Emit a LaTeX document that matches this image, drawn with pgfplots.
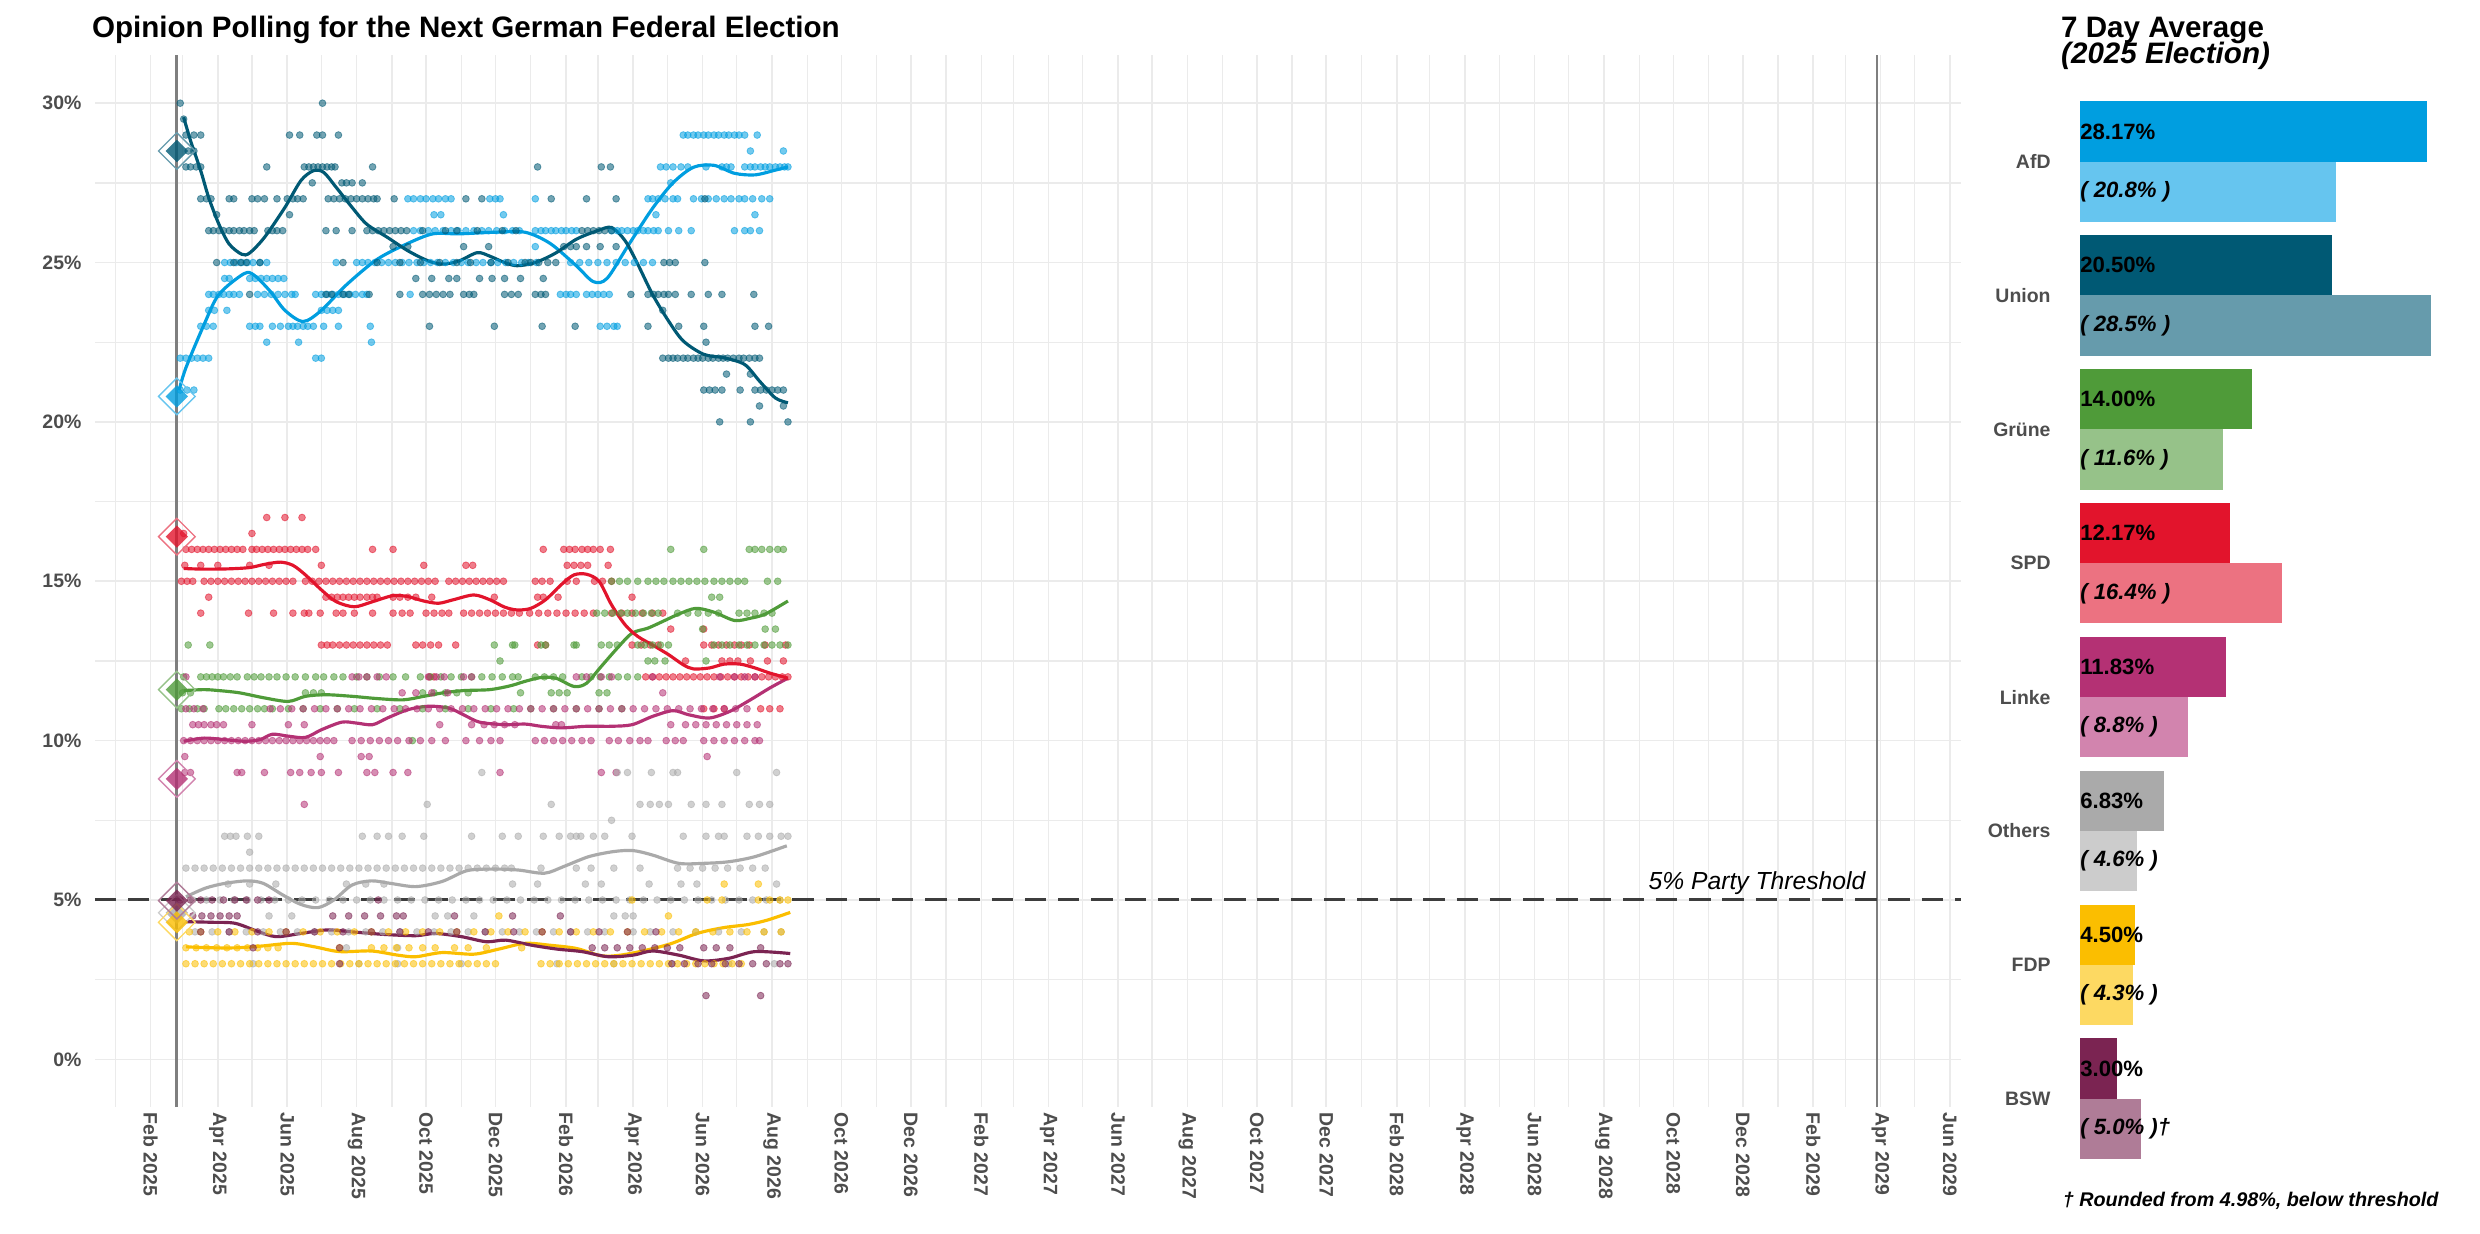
\documentclass[border=0pt]{standalone}
\usepackage{pgfplots}
\pgfplotsset{compat=1.18}
\usepackage{fontspec}
\setmainfont{Liberation Sans}
\definecolor{afd}{HTML}{009EE0}
\definecolor{afdl}{HTML}{66C5EF}
\definecolor{union}{HTML}{005974}
\definecolor{unionl}{HTML}{669BAC}
\definecolor{gruene}{HTML}{4F9B39}
\definecolor{gruenel}{HTML}{96C289}
\definecolor{spd}{HTML}{E2142C}
\definecolor{spdl}{HTML}{EC7281}
\definecolor{linke}{HTML}{B43174}
\definecolor{linkel}{HTML}{D284AE}
\definecolor{others}{HTML}{AAAAAA}
\definecolor{othersl}{HTML}{CCCCCC}
\definecolor{fdp}{HTML}{FBBE00}
\definecolor{fdpl}{HTML}{FDD962}
\definecolor{bsw}{HTML}{7B2452}
\definecolor{bswl}{HTML}{AF7C97}
\definecolor{gridc}{HTML}{EBEBEB}
\definecolor{tickc}{HTML}{4D4D4D}
\definecolor{vline}{HTML}{7F7F7F}
\pgfplotsset{
 dots/.style={only marks, mark=*, mark size=2.15pt, color=#1, mark options={draw=#1, fill=#1, fill opacity=0.55, draw opacity=0.55, line width=0.5pt}},
 trend/.style={no marks, smooth, tension=0.5, line width=2.0pt, color=#1},
 elec/.style={only marks, mark=square*, mark size=5.0pt, color=#1, mark options={rotate=45, draw=#1, draw opacity=0, fill=#1, fill opacity=0.8}},
 elecring/.style={only marks, mark=square, mark size=8.2pt, color=#1, mark options={rotate=45, draw=#1, line width=0.85pt}},
}
\begin{document}
\begin{tikzpicture}
\path[use as bounding box] (0,0) rectangle (1568pt,-780pt);
\node[anchor=base west,inner sep=0,font=\bfseries\fontsize{18.7}{20}\selectfont] at (58pt,-23.5pt) {Opinion Polling for the Next German Federal Election};
\begin{axis}[
 at={(60pt,-35pt)}, anchor=north west, scale only axis, width=1180pt, height=665pt,
 xmin=-18, xmax=1622, ymin=-1.5, ymax=31.5,
 axis line style={draw=none},
 major tick length=0pt, minor tick length=0pt,
 xtick={31,90,151,212,273,334,396,455,516,577,638,699,761,820,881,942,1003,1064,1126,1186,1247,1308,1369,1430,1492,1551,1612},
 xticklabels={Feb 2025,Apr 2025,Jun 2025,Aug 2025,Oct 2025,Dec 2025,Feb 2026,Apr 2026,Jun 2026,Aug 2026,Oct 2026,Dec 2026,Feb 2027,Apr 2027,Jun 2027,Aug 2027,Oct 2027,Dec 2027,Feb 2028,Apr 2028,Jun 2028,Aug 2028,Oct 2028,Dec 2028,Feb 2029,Apr 2029,Jun 2029},
 minor xtick={0,59,120,181,243,304,365,424,485,546,608,669,730,789,850,911,973,1034,1095,1155,1216,1277,1339,1400,1461,1520,1581},
 ytick={0,5,10,15,20,25,30}, yticklabels={0\%,5\%,10\%,15\%,20\%,25\%,30\%},
 minor ytick={2.5,7.5,12.5,17.5,22.5,27.5},
 grid=both,
 major grid style={draw=gridc, line width=1.05pt},
 minor grid style={draw=gridc, line width=0.85pt},
 tick label style={font=\bfseries\fontsize{12.3}{13}\selectfont, text=tickc},
 xticklabel style={rotate=-90, anchor=west},
 yticklabel style={xshift=-5pt},
]
% election lines
\addplot[no marks, draw=vline, line width=1.8pt] coordinates {(54,-1.5) (54,31.5)};
\addplot[no marks, draw=vline, line width=1.8pt] coordinates {(1548,-1.5) (1548,31.5)};
\node[anchor=base east, inner sep=0, font=\itshape\fontsize{15.6}{17}\selectfont] at (axis cs:1538,5.34) {5\% Party Threshold};

% ---- AfD polls
\addplot[dots=afd] coordinates {
(499,29)(503,29)(508,29)(512,29)(517,29)(521,29)(526,29)(530,29)(535,29)(539,29)(544,29)(548,29)(553,29)(564,29)
(558,28.5)(587,28.5)
(479,28)(484,28)(490,28)(497,28)(503,28)(519,28)(533,28)(537,28)(541,28)(553,28)(558,28)(562,28)(567,28)(571,28)(575,28)(580,28)(584,28)(588,28)(591,28)
(488,27.5)
(257,27)(262,27)(268,27)(273,27)(279,27)(284,27)(290,27)(295,27)(329,27)(334,27)(338,27)(369,27)(468,27)(472,27)(477,27)(483,27)(490,27)(494,27)(508,27)(515,27)(521,27)(528,27)(535,27)(541,27)(548,27)(553,27)(560,27)(568,27)(575,27)
(280,26.5)(286,26.5)(341,26.5)(475,26.5)(562,26.5)
(262,26)(268,26)(275,26)(281,26)(288,26)(295,26)(301,26)(308,26)(315,26)(322,26)(328,26)(335,26)(342,26)(349,26)(355,26)(369,26)(374,26)(378,26)(383,26)(387,26)(392,26)(396,26)(401,26)(405,26)(436,26)(441,26)(445,26)(450,26)(455,26)(459,26)(464,26)(468,26)(473,26)(477,26)(486,26)(495,26)(506,26)(544,26)(553,26)(558,26)(566,26)
(369,25.5)
(96,25)(101,25)(106,25)(111,25)(116,25)(121,25)(127,25)(133,25)(194,25)(212,25)(217,25)(222,25)(228,25)(234,25)(240,25)(246,25)(252,25)(258,25)(265,25)(271,25)(277,25)(283,25)(290,25)(297,25)(304,25)(310,25)(317,25)(323,25)(330,25)(336,25)(343,25)(350,25)(357,25)(363,25)(370,25)(400,25)(408,25)(416,25)(424,25)(432,25)(440,25)(448,25)(456,25)(464,25)(472,25)
(96,24.5)(100,24.5)(118,24.5)(123,24.5)(128,24.5)(133,24.5)(138,24.5)(143,24.5)(148,24.5)
(82,24)(86,24)(91,24)(95,24)(100,24)(104,24)(109,24)(125,24)(131,24)(137,24)(143,24)(149,24)(155,24)(158,24)(176,24)(181,24)(186,24)(191,24)(196,24)(201,24)(206,24)(211,24)(217,24)(221,24)(259,24)(391,24)(396,24)(400,24)(405,24)(414,24)(419,24)(424,24)(429,24)(434,24)
(82,23.5)(87,23.5)(98,23.5)(181,23.5)(186,23.5)(191,23.5)(196,23.5)
(75,23)(80,23)(86,23)(118,23)(123,23)(127,23)(138,23)(145,23)(152,23)(156,23)(160,23)(165,23)(169,23)(174,23)(183,23)(196,23)(224,23)(426,23)(432,23)(438,23)(441,23)
(133,22.5)(161,22.5)(225,22.5)
(57,22)(62,22)(67,22)(72,22)(77,22)(82,22)(176,22)(181,22)
(57,21)(63,21)(69,21)
};
% ---- Union polls
\addplot[dots=union] coordinates {
(57,30)(182,30)(60,29.5)
(62,29)(69,29)(75,29)(153,29)(162,29)(177,29)(182,29)(196,29)
(64,28.5)(69,28.5)
(62,28)(66,28)(71,28)(75,28)(133,28)(166,28)(170,28)(174,28)(178,28)(182,28)(186,28)(190,28)(193,28)(226,28)(371,28)(427,28)(435,28)
(173,27.5)(199,27.5)(203,27.5)(208,27.5)(217,27.5)
(75,27)(80,27)(84,27)(100,27)(104,27)(120,27)(125,27)(131,27)(142,27)(151,27)(156,27)(160,27)(165,27)(187,27)(192,27)(197,27)(202,27)(207,27)(212,27)(217,27)(222,27)(227,27)(230,27)(245,27)(308,27)(322,27)(383,27)(414,27)(440,27)(518,27)
(89,26.5)(153,26.5)
(82,26)(86,26)(91,26)(95,26)(100,26)(104,26)(109,26)(113,26)(118,26)(122,26)(134,26)(138,26)(142,26)(147,26)(185,26)(194,26)(208,26)(221,26)(226,26)(231,26)(236,26)(241,26)(246,26)(251,26)(256,26)(270,26)(290,26)(300,26)(318,26)(340,26)(352,26)(410,26)(415,26)(420,26)(425,26)(430,26)(436,26)
(244,25.5)(257,25.5)(306,25.5)(328,25.5)(394,25.5)(400,25.5)(405,25.5)(414,25.5)(426,25.5)(440,25.5)
(89,25)(104,25)(110,25)(115,25)(127,25)(200,25)(230,25)(250,25)(268,25)(285,25)(300,25)(312,25)(330,25)(345,25)(360,25)(365,25)(372,25)(380,25)(387,25)(482,25)(487,25)(492,25)(518,25)
(264,24.5)(278,24.5)(293,24.5)(300,24.5)(320,24.5)(331,24.5)(342,24.5)(356,24.5)(376,24.5)
(118,24)(185,24)(190,24)(200,24)(205,24)(223,24)(250,24)(270,24)(276,24)(282,24)(288,24)(294,24)(306,24)(311,24)(315,24)(342,24)(348,24)(354,24)(369,24)(374,24)(378,24)(453,24)(468,24)(473,24)(477,24)(482,24)(486,24)(492,24)(506,24)(521,24)(533,24)(561,24)
(481,23.5)
(276,23)(333,23)(375,23)(404,23)(468,23)(495,23)(517,23)(562,23)(574,23)
(519,22.5)
(481,22)(486,22)(490,22)(494,22)(499,22)(503,22)(508,22)(512,22)(516,22)(521,22)(525,22)(530,22)(534,22)(538,22)(543,22)(548,22)(552,22)(557,22)(562,22)(566,22)
(537,21.5)(558,21.5)
(517,21)(522,21)(527,21)(533,21)(549,21)(562,21)(567,21)(572,21)(577,21)(582,21)(587,21)
(566,20.5)(587,20.5)
(531,20)(558,20)(591,20)
};
% ---- SPD polls
\addplot[dots=spd] coordinates {
(133,17)(149,17)(164,17)(60,16.5)(120,16.5)
(62,16)(67,16)(72,16)(77,16)(82,16)(87,16)(92,16)(97,16)(102,16)(107,16)(112,16)(120,16)(124,16)(129,16)(134,16)(139,16)(144,16)(149,16)(154,16)(159,16)(164,16)(169,16)(176,16)(226,16)(244,16)(376,16)(394,16)(399,16)(404,16)(410,16)(415,16)(420,16)(426,16)(435,16)
(61,15.5)(75,15.5)(90,15.5)(118,15.5)(135,15.5)(181,15.5)(271,15.5)(308,15.5)(314,15.5)(397,15.5)(403,15.5)(409,15.5)(415,15.5)(433,15.5)
(58,15)(63,15)(68,15)(78,15)(84,15)(90,15)(96,15)(102,15)(108,15)(114,15)(120,15)(126,15)(132,15)(138,15)(144,15)(150,15)(156,15)(167,15)(173,15)(179,15)(185,15)(191,15)(197,15)(203,15)(209,15)(215,15)(221,15)(227,15)(233,15)(239,15)(245,15)(251,15)(257,15)(263,15)(269,15)(275,15)(281,15)(293,15)(299,15)(305,15)(311,15)(317,15)(323,15)(329,15)(335,15)(341,15)(369,15)(375,15)(382,15)(397,15)(405,15)(421,15)(428,15)(436,15)
(82,14.5)(185,14.5)(190,14.5)(195,14.5)(200,14.5)(205,14.5)(210,14.5)(215,14.5)(221,14.5)(226,14.5)(230,14.5)(244,14.5)(250,14.5)(257,14.5)(264,14.5)(278,14.5)(333,14.5)(371,14.5)(376,14.5)(389,14.5)(454,14.5)
(75,14)(117,14)(139,14)(156,14)(166,14)(170,14)(180,14)(194,14)(200,14)(210,14)(226,14)(244,14)(252,14)(259,14)(273,14)(280,14)(287,14)(293,14)(306,14)(313,14)(320,14)(327,14)(334,14)(341,14)(348,14)(355,14)(364,14)(372,14)(380,14)(388,14)(396,14)(404,14)(412,14)(420,14)(436,14)(445,14)(454,14)(463,14)(472,14)(481,14)
(488,13.5)(517,13.5)
(181,13)(186,13)(191,13)(197,13)(203,13)(209,13)(215,13)(221,13)(227,13)(233,13)(239,13)(264,13)(270,13)(277,13)(284,13)(299,13)(371,13)(378,13)(454,13)(462,13)(470,13)(477,13)(517,13)(524,13)(530,13)(537,13)(544,13)(550,13)(557,13)(571,13)(589,13)
(501,12.5)(533,12.5)(540,12.5)(547,12.5)(558,12.5)(573,12.5)(587,12.5)
(276,12)(280,12)(466,12)(472,12)(478,12)(484,12)(490,12)(496,12)(502,12)(508,12)(514,12)(520,12)(526,12)(532,12)(538,12)(544,12)(550,12)(556,12)(562,12)(568,12)(574,12)(580,12)(586,12)(591,12)
(517,11)(526,11)(535,11)(567,11)(575,11)(584,11)
};
% ---- Gruene polls
\addplot[dots=gruene] coordinates {
(488,16)(517,16)(557,16)(562,16)(568,16)(575,16)(582,16)(587,16)
(436,15)(443,15)(450,15)(459,15)(468,15)(475,15)(482,15)(490,15)(497,15)(504,15)(511,15)(518,15)(526,15)(533,15)(540,15)(547,15)(553,15)(573,15)(582,15)
(524,14.5)(531,14.5)
(423,14)(430,14)(437,14)(444,14)(450,14)(457,14)(464,14)(471,14)(477,14)(494,14)(503,14)(512,14)(521,14)(530,14)(548,14)(555,14)(562,14)(570,14)(577,14)
(516,13.5)(571,13.5)(580,13.5)
(64,13)(83,13)(333,13)(349,13)(351,13)(374,13)(378,13)(403,13)(405,13)(427,13)(434,13)(441,13)(459,13)(465,13)(472,13)(479,13)(486,13)(526,13)(533,13)(540,13)(548,13)(555,13)(562,13)(570,13)(577,13)(584,13)(591,13)
(338,12.5)(468,12.5)(474,12.5)(483,12.5)(519,12.5)
(60,12)(75,12)(80,12)(85,12)(90,12)(95,12)(101,12)(107,12)(116,12)(122,12)(128,12)(135,12)(142,12)(150,12)(158,12)(167,12)(176,12)(183,12)(192,12)(200,12)(212,12)(221,12)(232,12)(244,12)(255,12)(268,12)(277,12)(286,12)(295,12)(304,12)(313,12)(322,12)(331,12)(340,12)(349,12)(354,12)(369,12)(377,12)(385,12)(393,12)(410,12)(418,12)(426,12)(434,12)(442,12)(450,12)(459,12)
(59,11.5)(66,11.5)(167,11.5)(174,11.5)(181,11.5)(270,11.5)(280,11.5)(290,11.5)(300,11.5)(310,11.5)(356,11.5)(383,11.5)(390,11.5)(397,11.5)(425,11.5)(432,11.5)
(58,11)(65,11)(72,11)(78,11)(91,11)(97,11)(104,11)(111,11)(118,11)(125,11)(131,11)(138,11)(152,11)(165,11)(180,11)(195,11)(210,11)(230,11)(250,11)(270,11)(290,11)(310,11)(330,11)(350,11)(365,11)(385,11)(405,11)(425,11)(445,11)
(261,10)
};
% ---- Linke polls
\addplot[dots=linke] coordinates {
(62,12)(208,12)(214,12)(221,12)(230,12)(238,12)(275,12)(282,12)(289,12)(306,12)(313,12)(405,12)(414,12)(427,12)(436,12)(472,12)(531,12)(544,12)(553,12)(562,12)
(252,11.5)(264,11.5)(278,11.5)(292,11.5)(481,11.5)
(62,11)(69,11)(77,11)(136,11)(145,11)(155,11)(165,11)(175,11)(185,11)(195,11)(205,11)(215,11)(225,11)(235,11)(245,11)(255,11)(265,11)(275,11)(285,11)(295,11)(305,11)(315,11)(325,11)(335,11)(345,11)(355,11)(365,11)(375,11)(385,11)(395,11)(405,11)(415,11)(425,11)(435,11)(445,11)(455,11)(465,11)(475,11)(485,11)(495,11)(505,11)(515,11)(525,11)(535,11)(545,11)(555,11)
(68,10.5)(73,10.5)(78,10.5)(84,10.5)(89,10.5)(95,10.5)(120,10.5)(152,10.5)(166,10.5)(285,10.5)(313,10.5)(324,10.5)(333,10.5)(342,10.5)(351,10.5)(387,10.5)(392,10.5)(488,10.5)(501,10.5)(510,10.5)(519,10.5)(528,10.5)(537,10.5)(546,10.5)(555,10.5)(564,10.5)
(60,10)(66,10)(72,10)(78,10)(84,10)(90,10)(96,10)(102,10)(108,10)(114,10)(120,10)(126,10)(132,10)(138,10)(144,10)(150,10)(156,10)(162,10)(168,10)(174,10)(180,10)(186,10)(192,10)(208,10)(216,10)(224,10)(232,10)(240,10)(248,10)(258,10)(268,10)(278,10)(290,10)(308,10)(320,10)(330,10)(338,10)(369,10)(377,10)(385,10)(393,10)(401,10)(410,10)(418,10)(434,10)(442,10)(452,10)(461,10)(468,10)(484,10)(492,10)(499,10)(517,10)(526,10)(535,10)(544,10)(553,10)(562,10)(566,10)
(61,9.5)(180,9.5)(216,9.5)(223,9.5)(520,9.5)
(61,9)(66,9)(107,9)(111,9)(131,9)(154,9)(162,9)(172,9)(181,9)(196,9)(221,9)(228,9)(244,9)(257,9)(338,9)(427,9)(440,9)
(166,8)
};
% ---- Others polls
\addplot[dots=others] coordinates {
(322,9)(441,9)(450,9)(471,9)(490,9)(494,9)(546,9)(581,9)
(274,8)(383,8)(461,8)(470,8)(478,8)(486,8)(506,8)(519,8)(533,8)(557,8)(566,8)(575,8)
(436,7.5)
(96,7)(101,7)(106,7)(116,7)(126,7)(217,7)(230,7)(240,7)(252,7)(271,7)(313,7)(340,7)(354,7)(376,7)(390,7)(400,7)(405,7)(409,7)(420,7)(430,7)(454,7)(499,7)(519,7)(530,7)(535,7)(555,7)(565,7)(575,7)(585,7)(591,7)
(118,6.5)
(62,6)(70,6)(78,6)(86,6)(94,6)(102,6)(110,6)(118,6)(126,6)(134,6)(142,6)(150,6)(158,6)(166,6)(174,6)(182,6)(190,6)(198,6)(206,6)(214,6)(222,6)(230,6)(238,6)(246,6)(254,6)(262,6)(270,6)(278,6)(286,6)(294,6)(302,6)(310,6)(318,6)(326,6)(334,6)(342,6)(348,6)(374,6)(405,6)(418,6)(438,6)(461,6)(494,6)(505,6)(516,6)(527,6)(538,6)(549,6)(560,6)(571,6)
(99,5.5)(118,5.5)(141,5.5)(203,5.5)(220,5.5)(236,5.5)(349,5.5)(371,5.5)(413,5.5)(427,5.5)(469,5.5)(497,5.5)(511,5.5)(581,5.5)
(68,5)(80,5)(92,5)(104,5)(116,5)(128,5)(140,5)(152,5)(164,5)(176,5)(188,5)(200,5)(212,5)(224,5)(236,5)(248,5)(260,5)(272,5)(284,5)(296,5)(308,5)(320,5)(332,5)(344,5)(356,5)(368,5)(380,5)(392,5)(404,5)(416,5)(428,5)(440,5)(452,5)(464,5)(476,5)(488,5)(500,5)(512,5)(524,5)(536,5)(548,5)(560,5)(572,5)(584,5)
(135,4.5)(155,4.5)(281,4.5)(292,4.5)(315,4.5)(438,4.5)(448,4.5)(455,4.5)
(70,4)(85,4)(100,4)(115,4)(130,4)(145,4)(160,4)(175,4)(190,4)(205,4)(220,4)(235,4)(250,4)(265,4)(280,4)(295,4)(310,4)(325,4)(340,4)(355,4)(370,4)(385,4)(400,4)(415,4)(430,4)(455,4)(470,4)(490,4)(510,4)(530,4)(550,4)(570,4)(585,4)
(203,3.5)(248,3.5)
(121,3)(214,3)(248,3)(304,3)(388,3)(438,3)(489,3)(539,3)(579,3)
};
% ---- FDP polls
\addplot[dots=fdp] coordinates {
(535,5.5)(565,5.5)
(454,5)(520,5)(533,5)(565,5)(575,5)(584,5)(591,5)
(337,4.5)(486,4.5)
(65,4)(75,4)(90,4)(105,4)(120,4)(135,4)(150,4)(165,4)(180,4)(195,4)(210,4)(225,4)(240,4)(255,4)(270,4)(285,4)(300,4)(315,4)(330,4)(345,4)(360,4)(375,4)(390,4)(405,4)(420,4)(435,4)(450,4)(465,4)(480,4)(495,4)(510,4)(525,4)(540,4)(555,4)(570,4)(585,4)
(62,3.5)(71,3.5)(80,3.5)(89,3.5)(98,3.5)(107,3.5)(116,3.5)(125,3.5)(134,3.5)(143,3.5)(197,3.5)(225,3.5)(236,3.5)(247,3.5)(258,3.5)(270,3.5)(281,3.5)(298,3.5)(310,3.5)(326,3.5)(357,3.5)
(62,3)(70,3)(78,3)(86,3)(94,3)(102,3)(110,3)(118,3)(126,3)(134,3)(142,3)(150,3)(158,3)(166,3)(174,3)(182,3)(190,3)(198,3)(206,3)(214,3)(222,3)(230,3)(238,3)(246,3)(254,3)(262,3)(270,3)(278,3)(286,3)(294,3)(302,3)(310,3)(318,3)(326,3)(334,3)(374,3)(382,3)(390,3)(398,3)(406,3)(414,3)(422,3)(430,3)(438,3)(446,3)(454,3)(462,3)(470,3)(478,3)(486,3)(494,3)(502,3)(510,3)(518,3)(526,3)(534,3)(542,3)(550,3)
};
% ---- BSW polls
\addplot[dots=bsw] coordinates {
(57,5)(66,5)(75,5)(85,5)(95,5)(105,5)(115,5)(125,5)(135,5)(231,5)
(68,4.5)(76,4.5)(84,4.5)(92,4.5)(100,4.5)(107,4.5)(191,4.5)(205,4.5)(219,4.5)(233,4.5)(247,4.5)(253,4.5)(298,4.5)(349,4.5)(391,4.5)
(75,4)(100,4)(125,4)(150,4)(175,4)(200,4)(225,4)(250,4)(275,4)(300,4)(325,4)(350,4)(375,4)(400,4)(425,4)(450,4)(475,4)
(121,3.5)(197,3.5)(419,3.5)(430,3.5)(441,3.5)(452,3.5)(463,3.5)(474,3.5)(485,3.5)(496,3.5)(517,3.5)(528,3.5)(540,3.5)(567,3.5)
(197,3)(489,3)(500,3)(512,3)(524,3)(536,3)(548,3)(560,3)(572,3)(584,3)(591,3)
(519,2)(567,2)
};
% threshold
\addplot[no marks, draw=black!76, line width=1.9pt, dash pattern=on 13.5pt off 7.5pt] coordinates {(-18,5) (1622,5)};

% ---- trend lines
\addplot[trend=others] coordinates {(62,5.1)(79,5.37)(96,5.52)(116,5.6)(130,5.52)(147,5.16)(163,4.86)(178,4.76)(192,5.0)(208,5.47)(225,5.6)(242,5.52)(264,5.42)(287,5.58)(309,5.92)(332,5.97)(354,5.94)(377,5.84)(394,6.05)(416,6.36)(438,6.52)(455,6.55)(472,6.41)(495,6.15)(517,6.15)(539,6.2)(562,6.36)(590,6.7)};
\addplot[trend=fdp] coordinates {(62,3.53)(85,3.5)(107,3.5)(130,3.56)(155,3.64)(175,3.53)(197,3.38)(225,3.4)(248,3.27)(264,3.22)(287,3.35)(315,3.3)(337,3.46)(360,3.64)(382,3.58)(405,3.48)(427,3.25)(444,3.27)(467,3.43)(489,3.64)(511,3.95)(534,4.13)(556,4.23)(573,4.37)(593,4.61)};
\addplot[trend=bsw] coordinates {(62,4.32)(85,4.3)(105,4.27)(124,4.03)(141,3.85)(163,3.95)(186,4.06)(208,4.0)(236,3.92)(264,3.88)(281,3.95)(304,3.85)(326,3.69)(343,3.74)(366,3.58)(388,3.46)(410,3.38)(433,3.22)(455,3.27)(472,3.4)(495,3.27)(517,3.09)(539,3.17)(562,3.38)(593,3.32)};
\addplot[trend=linke] coordinates {(60,9.98)(78,10.08)(96,10.03)(114,9.98)(127,10.03)(138,10.2)(152,10.14)(167,10.1)(181,10.34)(199,10.58)(212,10.55)(226,10.5)(239,10.71)(257,10.97)(275,11.08)(293,11.02)(306,10.81)(320,10.58)(342,10.5)(360,10.52)(374,10.45)(392,10.4)(414,10.45)(436,10.45)(454,10.5)(472,10.76)(490,10.94)(504,10.81)(522,10.71)(540,10.92)(558,11.28)(575,11.65)(591,11.96)};
\addplot[trend=gruene] coordinates {(60,11.57)(78,11.6)(91,11.57)(109,11.5)(131,11.34)(152,11.23)(167,11.39)(185,11.44)(208,11.39)(230,11.32)(253,11.28)(271,11.39)(288,11.5)(306,11.57)(329,11.6)(347,11.72)(360,11.86)(374,11.98)(387,11.96)(403,11.7)(414,11.8)(427,12.33)(441,12.9)(454,13.37)(468,13.53)(481,13.74)(495,13.97)(510,14.15)(526,14.03)(544,13.77)(558,13.84)(571,13.97)(591,14.38)};
\addplot[trend=spd] coordinates {(60,15.4)(78,15.38)(100,15.39)(118,15.43)(131,15.53)(145,15.6)(156,15.5)(167,15.2)(181,14.73)(194,14.36)(210,14.2)(226,14.36)(244,14.55)(257,14.52)(271,14.38)(284,14.31)(297,14.42)(315,14.57)(329,14.42)(342,14.19)(353,14.1)(365,14.15)(378,14.42)(392,14.9)(403,15.2)(414,15.22)(425,15.0)(436,14.26)(448,13.63)(459,13.27)(472,13.0)(486,12.7)(499,12.38)(508,12.25)(522,12.28)(535,12.4)(549,12.4)(562,12.28)(575,12.12)(591,11.96)};
\addplot[trend=afd] coordinates {(56,21.0)(62,21.7)(78,23.06)(91,24.0)(113,24.65)(122,24.6)(136,24.1)(149,23.5)(165,23.15)(181,23.5)(203,24.3)(230,25.1)(257,25.6)(279,25.9)(302,25.9)(333,25.95)(360,25.95)(382,25.6)(405,24.9)(420,24.4)(432,24.5)(450,25.5)(472,26.7)(490,27.5)(508,27.99)(526,28.05)(544,27.8)(562,27.75)(580,27.9)(591,28.0)};
\addplot[trend=union] coordinates {(60,29.56)(66,28.83)(75,27.88)(82,27.04)(91,26.2)(100,25.58)(111,25.26)(118,25.3)(131,25.79)(149,26.73)(163,27.57)(174,27.88)(183,27.83)(194,27.36)(208,26.73)(221,26.2)(239,25.79)(257,25.37)(275,25.05)(288,24.95)(302,25.05)(318,25.31)(329,25.2)(342,25.0)(353,24.9)(369,25.0)(387,25.3)(405,25.73)(423,25.99)(436,26.1)(448,25.68)(459,24.95)(472,24.0)(486,23.17)(499,22.54)(517,22.12)(535,22.01)(553,21.8)(566,21.28)(580,20.75)(591,20.6)};

% ---- 2025 election results
\addplot[elecring=othersl] coordinates {(54,4.6)};
\addplot[elec=others] coordinates {(54,4.6)};
\addplot[elecring=fdpl] coordinates {(54,4.3)};
\addplot[elec=fdp] coordinates {(54,4.3)};
\addplot[elecring=bswl] coordinates {(54,4.98)};
\addplot[elec=bsw] coordinates {(54,4.98)};
\addplot[elecring=linkel] coordinates {(54,8.8)};
\addplot[elec=linke] coordinates {(54,8.8)};
\addplot[elecring=gruenel] coordinates {(54,11.6)};
\addplot[elec=gruene] coordinates {(54,11.6)};
\addplot[elecring=spdl] coordinates {(54,16.4)};
\addplot[elec=spd] coordinates {(54,16.4)};
\addplot[elecring=afdl] coordinates {(54,20.8)};
\addplot[elec=afd] coordinates {(54,20.8)};
\addplot[elecring=unionl] coordinates {(54,28.5)};
\addplot[elec=union] coordinates {(54,28.5)};
\end{axis}

% ================= right panel
\begin{axis}[
 at={(1304pt,-51.4pt)}, anchor=north west, scale only axis, width=244pt, height=694pt,
 xmin=-1.425, xmax=29.925, ymin=0.4, ymax=8.6,
 axis line style={draw=none}, major tick length=0pt,
 xtick=\empty, ytick={1,2,3,4,5,6,7,8},
 yticklabels={BSW,FDP,Others,Linke,SPD,Grüne,Union,AfD},
 yticklabel style={font=\bfseries\fontsize{12.3}{13}\selectfont, text=tickc, xshift=-4pt},
 clip=false,
]
\addplot[xbar, bar width=0.45, bar shift=0, draw=none, fill=afd] coordinates {(28.17,8.225)};
\addplot[xbar, bar width=0.45, bar shift=0, draw=none, fill=afdl] coordinates {(20.8,7.775)};
\addplot[xbar, bar width=0.45, bar shift=0, draw=none, fill=union] coordinates {(20.5,7.225)};
\addplot[xbar, bar width=0.45, bar shift=0, draw=none, fill=unionl] coordinates {(28.5,6.775)};
\addplot[xbar, bar width=0.45, bar shift=0, draw=none, fill=gruene] coordinates {(14.0,6.225)};
\addplot[xbar, bar width=0.45, bar shift=0, draw=none, fill=gruenel] coordinates {(11.6,5.775)};
\addplot[xbar, bar width=0.45, bar shift=0, draw=none, fill=spd] coordinates {(12.17,5.225)};
\addplot[xbar, bar width=0.45, bar shift=0, draw=none, fill=spdl] coordinates {(16.4,4.775)};
\addplot[xbar, bar width=0.45, bar shift=0, draw=none, fill=linke] coordinates {(11.83,4.225)};
\addplot[xbar, bar width=0.45, bar shift=0, draw=none, fill=linkel] coordinates {(8.8,3.775)};
\addplot[xbar, bar width=0.45, bar shift=0, draw=none, fill=others] coordinates {(6.83,3.225)};
\addplot[xbar, bar width=0.45, bar shift=0, draw=none, fill=othersl] coordinates {(4.6,2.775)};
\addplot[xbar, bar width=0.45, bar shift=0, draw=none, fill=fdp] coordinates {(4.5,2.225)};
\addplot[xbar, bar width=0.45, bar shift=0, draw=none, fill=fdpl] coordinates {(4.3,1.775)};
\addplot[xbar, bar width=0.45, bar shift=0, draw=none, fill=bsw] coordinates {(3.0,1.225)};
\addplot[xbar, bar width=0.45, bar shift=0, draw=none, fill=bswl] coordinates {(4.98,0.775)};
\begin{scope}[every node/.style={anchor=west, inner sep=0pt, font=\bfseries\fontsize{14}{15}\selectfont}]
\node at (axis cs:0,8.225) {28.17\%};
\node at (axis cs:0,7.225) {20.50\%};
\node at (axis cs:0,6.225) {14.00\%};
\node at (axis cs:0,5.225) {12.17\%};
\node at (axis cs:0,4.225) {11.83\%};
\node at (axis cs:0,3.225) {6.83\%};
\node at (axis cs:0,2.225) {4.50\%};
\node at (axis cs:0,1.225) {3.00\%};
\end{scope}
\begin{scope}[every node/.style={anchor=west, inner sep=0pt, font=\bfseries\itshape\fontsize{14}{15}\selectfont}]
\node at (axis cs:0,7.775) {( 20.8\% )};
\node at (axis cs:0,6.775) {( 28.5\% )};
\node at (axis cs:0,5.775) {( 11.6\% )};
\node at (axis cs:0,4.775) {( 16.4\% )};
\node at (axis cs:0,3.775) {( 8.8\% )};
\node at (axis cs:0,2.775) {( 4.6\% )};
\node at (axis cs:0,1.775) {( 4.3\% )};
\node at (axis cs:0,0.775) {( 5.0\% )†};
\end{scope}
\end{axis}
\node[anchor=base west,inner sep=0,font=\bfseries\fontsize{18.7}{20}\selectfont] at (1303pt,-23.7pt) {7 Day Average};
\node[anchor=base west,inner sep=0,font=\bfseries\itshape\fontsize{18.7}{20}\selectfont] at (1303pt,-40pt) {(2025 Election)};
\node[anchor=base west,inner sep=0,font=\bfseries\itshape\fontsize{12.5}{13}\selectfont] at (1304pt,-763pt) {† Rounded from 4.98\%, below threshold};
\end{tikzpicture}
\end{document}
